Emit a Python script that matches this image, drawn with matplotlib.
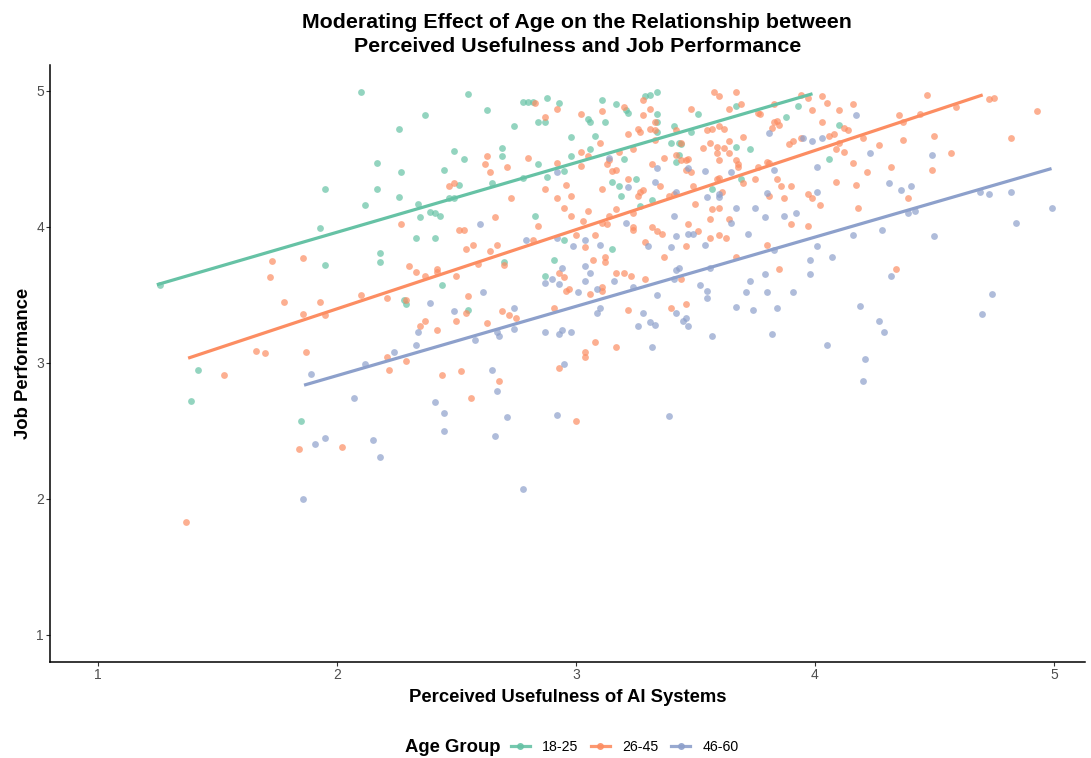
import numpy as np
import matplotlib
matplotlib.use("Agg")
import matplotlib.pyplot as plt
from matplotlib.lines import Line2D

plt.rcParams['font.family'] = ['Liberation Sans', 'DejaVu Sans']

groups = ["18-25", "26-45", "46-60"]
colors = ["#66C2A5", "#FC8D62", "#8DA0CB"]

green_pts = [
    (2.10,4.99),(2.17,4.47),(1.95,4.28),(2.17,4.28),(2.12,4.16),(1.93,3.99),
    (2.55,4.98),(2.37,4.82),(2.26,4.72),(2.63,4.86),(2.78,4.92),(2.80,4.92),(2.82,4.92),
    (2.88,4.95),(2.93,4.91),(2.84,4.77),(2.87,4.77),(2.74,4.74),(3.11,4.93),(3.17,4.90),
    (3.05,4.79),(3.06,4.77),(3.12,4.77),(2.98,4.66),(3.08,4.67),(3.06,4.57),(2.98,4.52),
    (2.69,4.58),(2.69,4.52),(2.49,4.56),(2.53,4.50),(2.84,4.46),(2.78,4.36),(2.88,4.37),
    (2.95,4.41),(2.45,4.42),(2.27,4.40),(2.51,4.31),(2.65,4.32),(3.15,4.33),(3.18,4.30),
    (2.47,4.21),(2.49,4.21),(2.26,4.22),(2.34,4.17),(2.39,4.11),(2.41,4.10),(2.43,4.08),
    (2.35,4.07),(2.83,4.08),
    (3.29,4.96),(3.31,4.97),(3.34,4.99),(3.21,4.86),(3.22,4.84),(3.67,4.89),(3.51,4.83),
    (3.34,4.83),(3.34,4.77),(3.34,4.70),(3.41,4.74),(3.48,4.70),(3.40,4.62),(3.43,4.62),
    (3.44,4.61),(3.67,4.59),(3.73,4.57),(3.88,4.81),(3.93,4.89),(4.10,4.75),(4.06,4.50),
    (3.20,4.50),(3.42,4.48),(3.43,4.53),(3.25,4.35),(3.19,4.23),(3.32,4.20),(3.69,4.35),
    (3.57,4.28),(3.27,4.15),
    (1.26,3.57),(1.95,3.72),(2.18,3.81),(2.18,3.74),(1.42,2.95),
    (2.33,3.92),(2.41,3.92),(2.70,3.74),(2.95,3.90),(3.15,3.84),(2.91,3.76),(2.87,3.64),
    (2.44,3.57),(2.28,3.46),(2.29,3.43),(2.55,3.39),
    (1.39,2.72),(1.85,2.57),
]

orange_pts = [
    (2.83,4.91),(2.87,4.81),(2.92,4.87),(3.02,4.83),(3.11,4.85),(3.10,4.62),(3.02,4.55),
    (3.02,4.45),(3.05,4.52),(3.14,4.49),(3.13,4.46),(3.15,4.41),(3.17,4.42),(2.63,4.52),
    (2.62,4.46),(2.64,4.40),(2.71,4.44),(2.80,4.51),(2.92,4.47),(2.49,4.32),(2.47,4.30),
    (2.87,4.28),(2.96,4.31),(2.92,4.21),(2.98,4.23),(2.73,4.21),(2.95,4.14),(3.11,4.28),
    (3.17,4.13),(3.05,4.12),(2.98,4.08),(3.14,4.08),(3.11,4.03),(3.13,4.02),(3.03,4.04),
    (2.66,4.07),(2.27,4.02),(2.84,4.01),(2.51,3.98),(2.53,3.98),
    (3.58,4.99),(3.60,4.96),(3.67,4.99),(3.20,4.88),(3.28,4.93),(3.28,4.82),(3.31,4.87),
    (3.48,4.87),(3.64,4.87),(3.69,4.90),(3.76,4.84),(3.77,4.83),(3.83,4.90),(3.94,4.97),
    (3.97,4.95),(4.03,4.96),(4.05,4.91),(3.99,4.86),(4.10,4.86),(4.16,4.90),(3.33,4.77),
    (3.26,4.72),(3.27,4.70),(3.31,4.72),(3.33,4.71),(3.22,4.68),(3.33,4.64),(3.42,4.71),
    (3.55,4.71),(3.57,4.72),(3.60,4.74),(3.62,4.72),(3.70,4.66),(3.64,4.63),(3.44,4.62),
    (3.53,4.58),(3.56,4.62),(3.59,4.59),(3.62,4.58),(3.59,4.54),(3.64,4.54),(3.60,4.49),
    (3.67,4.49),(3.68,4.46),(3.68,4.44),(3.24,4.57),(3.37,4.51),(3.42,4.53),(3.44,4.49),
    (3.46,4.49),(3.47,4.50),(3.32,4.46),(3.46,4.42),(3.48,4.40),(3.22,4.35),(3.27,4.26),
    (3.28,4.27),(3.35,4.30),(3.26,4.23),(3.39,4.23),(3.41,4.24),(3.49,4.30),(3.59,4.35),
    (3.60,4.36),(3.61,4.26),(3.50,4.17),(3.57,4.13),(3.60,4.14),(3.70,4.32),(3.75,4.35),
    (3.76,4.44),(3.80,4.48),(3.81,4.47),(3.84,4.35),(3.86,4.30),(3.90,4.30),(3.87,4.21),
    (3.81,4.23),(3.89,4.61),(3.91,4.63),(3.94,4.65),(3.83,4.77),(3.84,4.78),(3.85,4.75),
    (3.82,4.73),(4.03,4.77),(4.06,4.67),(4.08,4.68),(4.12,4.73),(4.14,4.71),(4.09,4.57),
    (4.12,4.55),(4.16,4.47),(4.10,4.62),(4.09,4.33),(4.17,4.31),(3.97,4.24),(3.99,4.21),
    (4.02,4.16),(4.18,4.14),(3.90,4.02),(3.97,4.01),(3.56,4.06),(3.64,4.06),(3.47,4.02),
    (3.32,4.00),(3.24,4.00),(3.24,4.10),(3.18,4.55),
    (4.47,4.97),(4.73,4.94),(4.75,4.95),(4.93,4.85),(4.59,4.88),(4.35,4.82),(4.37,4.77),
    (4.44,4.83),(4.20,4.65),(4.27,4.60),(4.37,4.64),(4.50,4.67),(4.82,4.65),(4.57,4.54),
    (4.22,4.40),(4.32,4.44),(4.49,4.42),(4.39,4.21),
    (1.73,3.75),(1.86,3.77),(1.72,3.63),(1.78,3.45),(1.93,3.45),(1.86,3.36),(1.95,3.35),
    (2.10,3.50),(1.66,3.09),(1.70,3.07),(1.87,3.08),(1.53,2.91),
    (2.82,3.90),(2.54,3.84),(2.57,3.87),(2.64,3.82),(2.67,3.87),(3.00,3.94),(3.08,3.94),
    (3.04,3.85),(3.12,3.78),(3.12,3.74),(3.07,3.76),(3.17,3.66),(2.59,3.73),(2.70,3.72),
    (2.30,3.71),(2.33,3.67),(2.42,3.69),(2.42,3.67),(2.37,3.64),(2.50,3.64),(2.93,3.66),
    (2.95,3.63),(2.96,3.53),(2.97,3.54),(3.06,3.51),(3.11,3.56),(3.11,3.53),(2.21,3.48),
    (2.29,3.46),(2.55,3.49),(2.54,3.37),(2.50,3.31),(2.37,3.31),(2.35,3.27),(2.42,3.24),
    (2.69,3.38),(2.72,3.35),(2.75,3.33),(2.63,3.29),(2.91,3.40),(3.08,3.15),(3.04,3.08),
    (3.04,3.04),(3.17,3.12),(2.21,3.04),(2.29,3.01),(2.22,2.95),(2.44,2.91),(2.52,2.94),
    (2.93,2.96),(2.68,2.87),
    (3.24,3.98),(3.34,3.97),(3.36,3.95),(3.51,3.97),(3.56,3.92),(3.60,3.94),(3.63,3.92),
    (3.29,3.89),(3.46,3.86),(3.37,3.78),(3.67,3.78),(3.80,3.87),(3.85,3.69),(3.20,3.66),
    (3.23,3.64),(3.29,3.62),(3.44,3.62),(3.22,3.39),(3.40,3.40),(3.46,3.43),
    (4.34,3.69),
    (1.84,2.37),(2.02,2.38),(1.37,1.83),
    (2.56,2.74),(3.00,2.57),
]

blue_pts = [
    (3.14,4.51),(2.92,4.40),(2.60,4.02),
    (3.34,4.43),(3.22,4.29),(3.33,4.33),(3.42,4.26),(3.47,4.43),(3.54,4.41),(3.55,4.22),
    (3.60,4.24),(3.60,4.22),(3.65,4.40),(3.67,4.14),(3.75,4.14),(3.41,4.08),(3.65,4.03),
    (3.79,4.07),(3.80,4.25),(3.83,4.42),(3.81,4.69),(3.95,4.65),(3.99,4.63),(4.03,4.65),
    (4.17,4.82),(4.01,4.44),(4.01,4.26),(3.87,4.08),(3.92,4.10),(3.21,4.03),
    (4.23,4.54),(4.49,4.53),(4.31,4.32),(4.36,4.27),(4.40,4.30),(4.39,4.10),(4.42,4.12),
    (4.28,3.98),(4.69,4.26),(4.73,4.24),(4.82,4.26),(4.99,4.14),(4.84,4.03),
    (1.89,2.92),(2.12,2.99),
    (2.79,3.90),(2.92,3.92),(2.99,3.86),(3.04,3.90),(3.10,3.87),(2.94,3.70),(3.04,3.71),
    (3.06,3.66),(2.87,3.59),(2.90,3.62),(2.93,3.58),(3.04,3.60),(3.01,3.52),(3.09,3.54),
    (3.16,3.60),(2.61,3.52),(2.39,3.44),(2.49,3.38),(2.74,3.40),(2.34,3.23),(2.58,3.17),
    (2.67,3.23),(2.68,3.20),(2.74,3.25),(2.87,3.23),(2.93,3.21),(2.94,3.24),(2.98,3.23),
    (3.10,3.40),(3.09,3.37),(2.33,3.13),(2.24,3.08),(2.65,2.95),(2.95,2.99),
    (3.42,3.93),(3.47,3.95),(3.49,3.95),(3.72,3.95),(3.30,3.86),(3.40,3.85),(3.54,3.87),
    (3.83,3.83),(4.01,3.86),(4.16,3.94),(3.98,3.76),(4.07,3.78),(3.43,3.70),(3.42,3.68),
    (3.56,3.70),(3.41,3.62),(3.24,3.56),(3.52,3.57),(3.55,3.53),(3.55,3.48),(3.34,3.50),
    (3.79,3.65),(3.98,3.65),(3.73,3.60),(3.71,3.52),(3.80,3.52),(3.91,3.52),(3.67,3.41),
    (3.74,3.39),(3.84,3.40),(3.28,3.37),(3.42,3.37),(3.26,3.27),(3.31,3.30),(3.33,3.28),
    (3.46,3.33),(3.45,3.31),(3.47,3.27),(3.57,3.20),(3.82,3.21),(3.32,3.12),(4.05,3.13),
    (4.19,3.42),
    (4.50,3.93),(4.32,3.64),(4.74,3.51),(4.70,3.36),(4.27,3.31),(4.29,3.23),(4.21,3.03),
    (4.20,2.87),
    (2.07,2.74),(1.91,2.40),(1.95,2.45),(2.15,2.43),(2.18,2.31),(1.86,2.00),
    (2.67,2.79),(2.41,2.71),(2.45,2.63),(2.45,2.50),(2.71,2.60),(2.66,2.46),(2.92,2.62),
    (2.78,2.07),
    (3.39,2.61),
]

# linear fit lines: (intercept, slope), x-range of fit
fit_intercepts = [2.936, 2.232, 1.887]
fit_slopes = [0.512, 0.5824, 0.5094]
fit_xmin = [1.247, 1.378, 1.863]
fit_xmax = [3.990, 4.702, 4.990]

x_ticks = [1, 2, 3, 4, 5]
y_ticks = [1, 2, 3, 4, 5]

fig = plt.figure(figsize=(10.91, 7.58), dpi=100)
ax = fig.add_axes([0.0458, 0.1266, 0.9487, 0.7876])

for pts, col in zip([green_pts, orange_pts, blue_pts], colors):
    arr = np.array(pts)
    ax.scatter(arr[:, 0], arr[:, 1], s=24, color=col, alpha=0.7, linewidths=0, zorder=2)

for i, col in enumerate(colors):
    xs = np.array([fit_xmin[i], fit_xmax[i]])
    ax.plot(xs, fit_intercepts[i] + fit_slopes[i] * xs, color=col, lw=2.3,
            solid_capstyle='butt', zorder=3)

ax.set_xlim(0.80, 5.13)
ax.set_ylim(0.80, 5.19)
ax.set_xticks(x_ticks)
ax.set_yticks(y_ticks)
ax.tick_params(axis='both', labelsize=10, labelcolor='#4D4D4D', color='#333333',
               length=2.75, width=0.8, pad=1.5)
for s in ['top', 'right']:
    ax.spines[s].set_visible(False)
for s in ['left', 'bottom']:
    ax.spines[s].set_linewidth(1.1)
    ax.spines[s].set_color('black')

ax.set_xlabel("Perceived Usefulness of AI Systems", fontsize=13.3, fontweight='bold', labelpad=5)
ax.set_ylabel("Job Performance", fontsize=13.3, fontweight='bold', labelpad=3)
fig.text(0.529, 0.983, "Moderating Effect of Age on the Relationship between\nPerceived Usefulness and Job Performance",
         ha='center', va='top', fontsize=15.4, fontweight='bold', linespacing=1.32)

handles = [Line2D([0], [0], color=c, lw=2.3, marker='o', markersize=5,
                  markeredgewidth=0, alpha=0.9) for c in colors]
fig.text(0.459, 0.0145, "Age Group", ha='right', va='center', fontsize=13.3, fontweight='bold')
fig.legend(handles, groups, loc='center left', bbox_to_anchor=(0.468, 0.0145), ncol=3,
           frameon=False, fontsize=10.2, handlelength=1.35, handletextpad=0.85,
           columnspacing=0.9, borderpad=0, borderaxespad=0)

fig.savefig("out.png", dpi=100)
